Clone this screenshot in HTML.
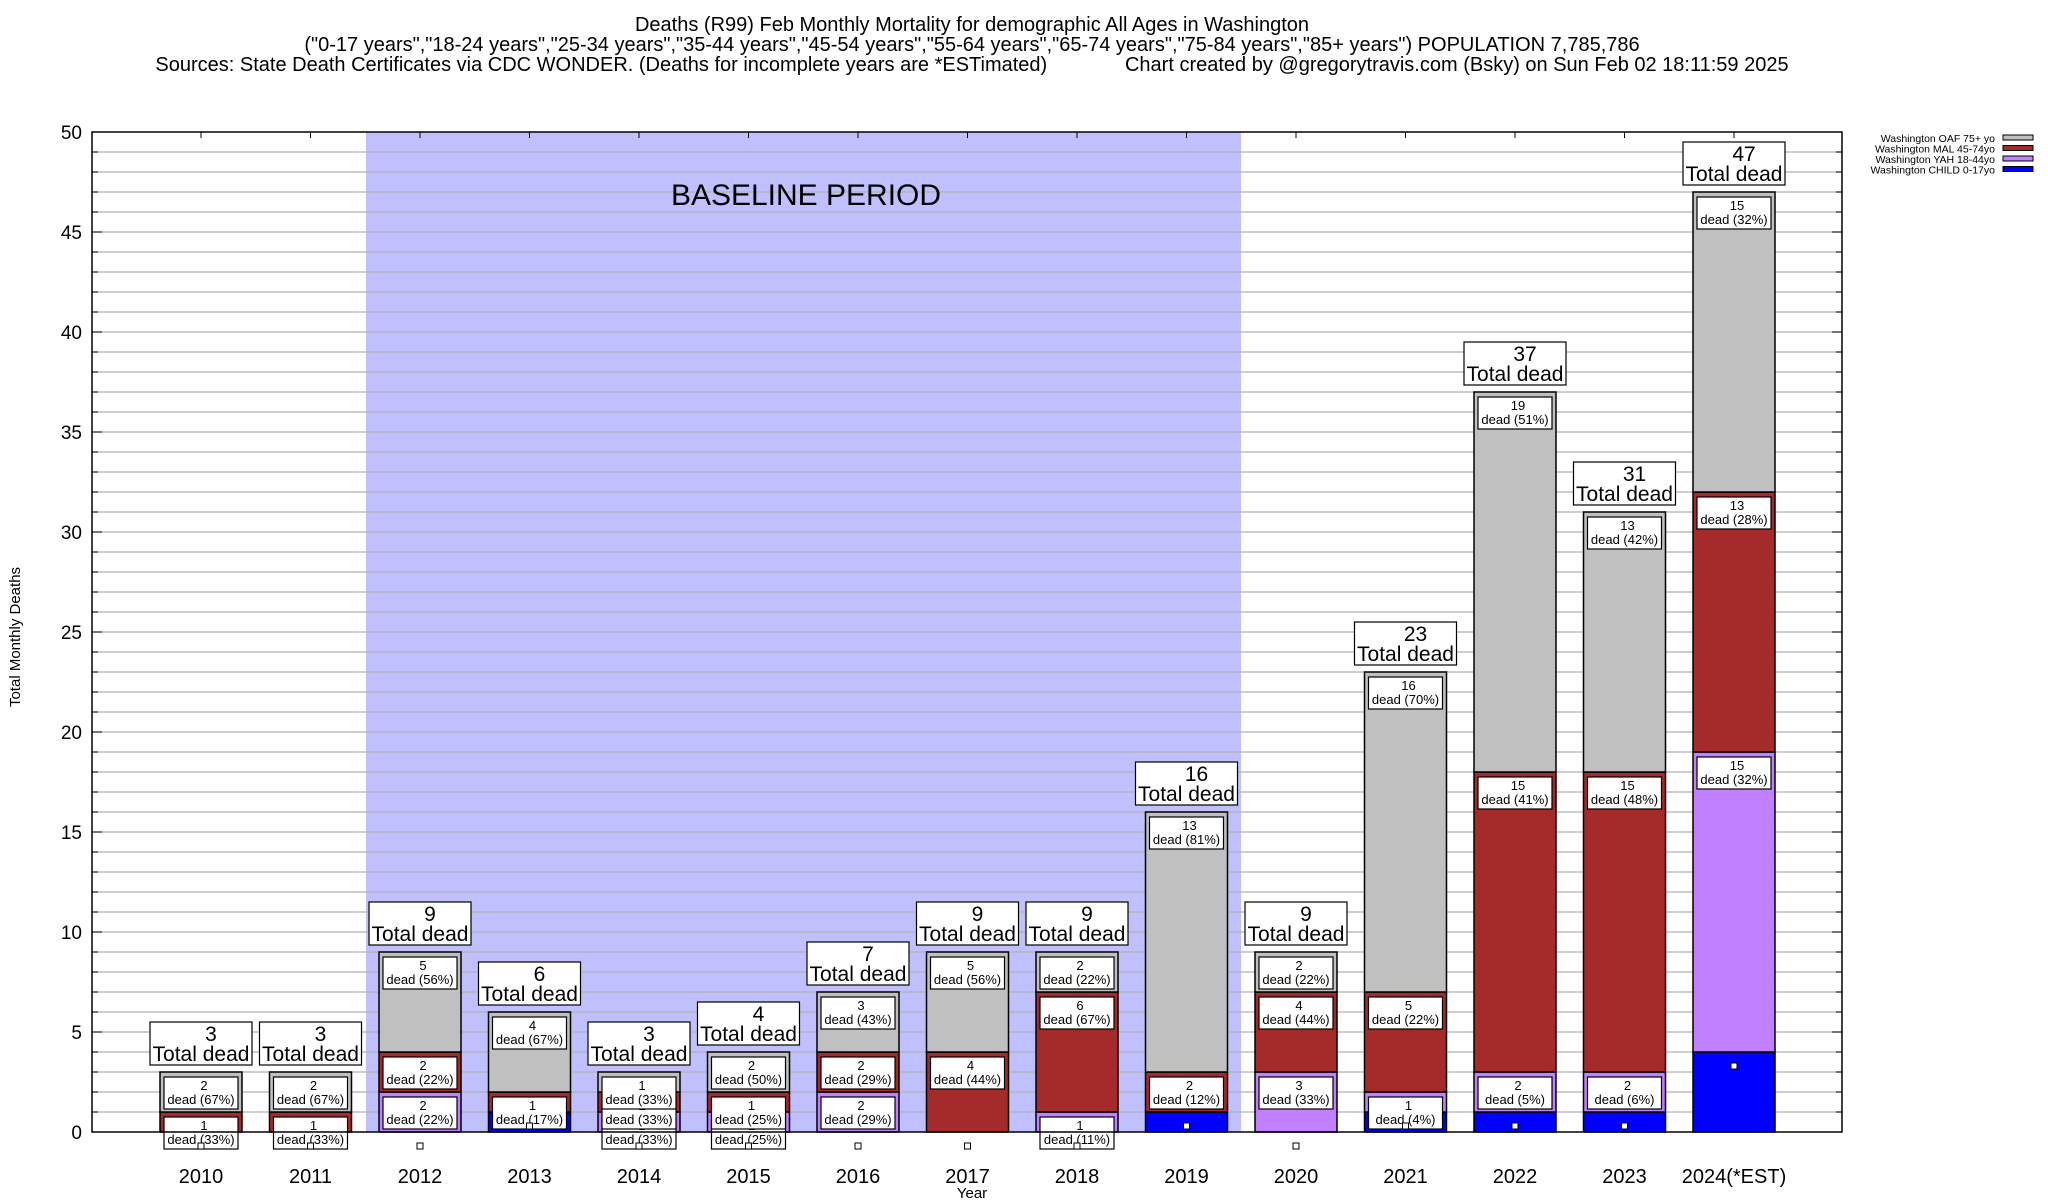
<!DOCTYPE html>
<html><head><meta charset="utf-8"><style>
html,body{margin:0;padding:0;background:#fff;}
svg{display:block;font-family:"Liberation Sans",Arial,sans-serif;}
</style></head><body>
<svg id="chart" width="2048" height="1200" xmlns="http://www.w3.org/2000/svg">
<g font-size="20" text-anchor="middle" fill="#000">
<text x="972" y="31">Deaths (R99) Feb Monthly Mortality for demographic All Ages in Washington</text>
<text x="972" y="51">("0-17 years","18-24 years","25-34 years","35-44 years","45-54 years","55-64 years","65-74 years","75-84 years","85+ years") POPULATION 7,785,786</text>
<text x="972" y="71" xml:space="preserve">Sources: State Death Certificates via CDC WONDER. (Deaths for incomplete years are *ESTimated)              Chart created by @gregorytravis.com (Bsky) on Sun Feb 02 18:11:59 2025</text>
</g>
<g id="plot"></g>
<g id="legend"></g>
</svg>
<script>
const years = ["2010","2011","2012","2013","2014","2015","2016","2017","2018","2019","2020","2021","2022","2023","2024(*EST)"];
const child = [0,0,0,1,0,0,0,0,0,1,0,1,1,1,4];
const yah   = [0,0,2,0,1,1,2,0,1,0,3,1,2,2,15];
const mal   = [1,1,2,1,1,1,2,4,6,2,4,5,15,15,13];
const oaf   = [2,2,5,4,1,2,3,5,2,13,2,16,19,13,15];
const yTicks = [0,5,10,15,20,25,30,35,40,45,50];
const seriesNames = ["Washington OAF 75+ yo","Washington MAL 45-74yo","Washington YAH 18-44yo","Washington CHILD 0-17yo"];

const NS="http://www.w3.org/2000/svg";
const L=92,R=1842,T=132,B=1132,YMAX=50;
const y=v=>B-(B-T)*v/YMAX;
const x=i=>201+i*109.5;
const BW=82;
const plot=document.getElementById('plot');
function mk(tag,attrs,parent,text){const e=document.createElementNS(NS,tag);for(const k in attrs)e.setAttribute(k,attrs[k]);if(text!==undefined)e.textContent=text;(parent||plot).appendChild(e);return e;}
function pct(v,t){const p=100*v/t;const f=Math.floor(p);const d=p-f;if(Math.abs(d-0.5)<1e-9)return (f%2===0)?f:f+1;return Math.round(p);}

const bl=mk('rect',{x:366,y:T,width:875,height:B-T,fill:'#c0c0ff'});


for(let v=1;v<YMAX;v++){
  const g=mk('line',{x1:L,x2:R,y1:y(v),y2:y(v),stroke:'#b0b0b0','stroke-width':1.3});
  
  
  mk('line',{x1:L,x2:L+6,y1:y(v),y2:y(v),stroke:'#000'});
  mk('line',{x1:R-6,x2:R,y1:y(v),y2:y(v),stroke:'#000'});
}
const bt=mk('text',{x:806,y:205,'font-size':30,'text-anchor':'middle'},plot,'BASELINE PERIOD');


yTicks.forEach(v=>{
  const t=mk('text',{x:82,y:y(v)+7,'font-size':19,'text-anchor':'end'},plot,String(v));
  
  
  mk('line',{x1:L,x2:L+10,y1:y(v),y2:y(v),stroke:'#000'});
  mk('line',{x1:R-10,x2:R,y1:y(v),y2:y(v),stroke:'#000'});
});
const colors=['#0000ff','#c080ff','#a52a2a','#c0c0c0'];
const names=['child','yah','mal','oaf'];
years.forEach((yr,i)=>{
  const cx=x(i);
  mk('line',{x1:cx,x2:cx,y1:T,y2:T+6,stroke:'#000'});
  mk('line',{x1:cx,x2:cx,y1:B,y2:B-6,stroke:'#000'});
  const xl=mk('text',{x:cx,y:1183,'font-size':20,'text-anchor':'middle'},plot,yr);
  
  
  const vals=[child[i],yah[i],mal[i],oaf[i]];
  const total=vals.reduce((a,b)=>a+b,0);
  let base=0;
  const tops=[];
  vals.forEach((v,k)=>{
    if(v>0){
      const r=mk('rect',{x:cx-BW/2,y:y(base+v),width:BW,height:y(base)-y(base+v),fill:colors[k],stroke:'#000','stroke-width':1.5});
      
      
      tops.push([k,v,base+v]);
    }
    base+=v;
  });
  tops.forEach(([k,v,top])=>{
    if(k===0)return;
    const by=y(top)+5;
    const g=mk('g',{});
    
    
    mk('rect',{x:cx-37,y:by,width:74,height:32,fill:'#fff',stroke:'#000','stroke-width':1.2},g);
    mk('text',{x:cx+3,y:by+13,'font-size':13,'text-anchor':'middle'},g,String(v));
    mk('text',{x:cx,y:by+27,'font-size':13,'text-anchor':'middle'},g,'dead ('+pct(v,total)+'%)');
  });
  const sq=mk('rect',{x:cx-3,y:y(child[i])+11,width:6,height:6,fill:'#fff',stroke:'#000','stroke-width':1});
  
  
  const tb=y(total)-7;
  const g=mk('g',{});
  
  
  mk('rect',{x:cx-51,y:tb-43,width:102,height:43,fill:'#fff',stroke:'#000','stroke-width':1.2},g);
  mk('text',{x:cx+10,y:tb-24,'font-size':21,'text-anchor':'middle'},g,String(total));
  mk('text',{x:cx,y:tb-4,'font-size':21,'text-anchor':'middle'},g,'Total dead');
});
mk('rect',{x:L,y:T,width:R-L,height:B-T,fill:'none',stroke:'#000','stroke-width':1.5});
const yt=mk('text',{x:0,y:0,'font-size':15,'text-anchor':'middle',transform:'translate(20,637) rotate(-90)'},plot,'Total Monthly Deaths');


const xt=mk('text',{x:972,y:1198,'font-size':15,'text-anchor':'middle'},plot,'Year');


const leg=document.getElementById('legend');
const legCols=['#c0c0c0','#a52a2a','#c080ff','#0000ff'];
seriesNames.forEach((n,k)=>{
  const ly=138+k*10.5;
  const g=mk('g',{},leg);
  
  
  mk('text',{x:1995,y:ly+4,'font-size':10.5,'text-anchor':'end'},g,n);
  mk('rect',{x:2003,y:ly-3,width:30,height:5,fill:legCols[k],stroke:'#000','stroke-width':1},g);
});
</script>
</body></html>
